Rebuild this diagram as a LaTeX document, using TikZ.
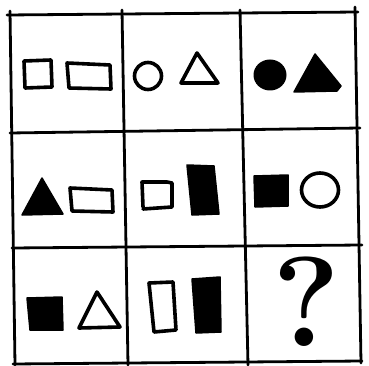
\documentclass[tikz,border=0pt]{standalone}
\usepackage{tikz}

\begin{document}
\begin{tikzpicture}[x=1pt,y=-1pt,line join=round,line cap=round,
   grid/.style={line width=2.8pt},
   outl/.style={line width=3.6pt},
   blk/.style={fill=black,draw=black,line width=1.5pt}]
  \useasboundingbox (0,0) rectangle (369,366);
  % grid
  \draw[grid] (7,15) -- (358,12);
  \draw[grid] (10,133) -- (360,128);
  \draw[grid] (12,248) -- (362,245);
  \draw[grid] (13,364) -- (362,361);
  \draw[grid] (10,11) -- (15,365);
  \draw[grid] (122,10) -- (128,365);
  \draw[grid] (240,10) -- (248,365);
  \draw[grid] (355,7) -- (361,363);
  % row 1
  \draw[outl] (24,61) -- (51,60) -- (52,87) -- (25,88) -- cycle;
  \draw[outl] (67,63) -- (110,65) -- (111,89) -- (69,88) -- cycle;
  \draw[outl] (148,76) circle (13.5);
  \draw[outl] (197,53) -- (218,83) -- (181,83) -- cycle;
  \fill (270,75) ellipse (16.5 and 15.5);
  \filldraw[blk] (315,54) -- (341,86) -- (337,91) -- (294,92) -- cycle;
  % row 2
  \filldraw[blk] (42,178) -- (63,214) -- (22,215) -- cycle;
  \draw[outl] (70,188) -- (112,190) -- (113,212) -- (72,211) -- cycle;
  \draw[outl] (143,207) -- (142,182) -- (167,182) -- (172,183) -- (172,207) -- (143,209);
  \filldraw[blk] (187,165) -- (214,166) -- (219,214) -- (192,215) -- cycle;
  \filldraw[blk] (254,176) -- (288,175) -- (288,206) -- (255,207) -- cycle;
  \draw[outl] (320,190) ellipse (18.5 and 17);
  % row 3
  \filldraw[blk] (27,298) -- (62,297) -- (63,330) -- (30,330) -- cycle;
  \draw[outl] (97,292) -- (120,327) -- (79,328) -- cycle;
  \draw[outl] (149,283) -- (173,282) -- (176,330) -- (154,332) -- cycle;
  \filldraw[blk] (192,279) -- (220,277) -- (221,332) -- (196,333) -- cycle;
  \node[inner sep=1pt] (qm) at (306,302) {\fontsize{128}{128}\selectfont\bfseries ?};
\end{tikzpicture}
\end{document}
